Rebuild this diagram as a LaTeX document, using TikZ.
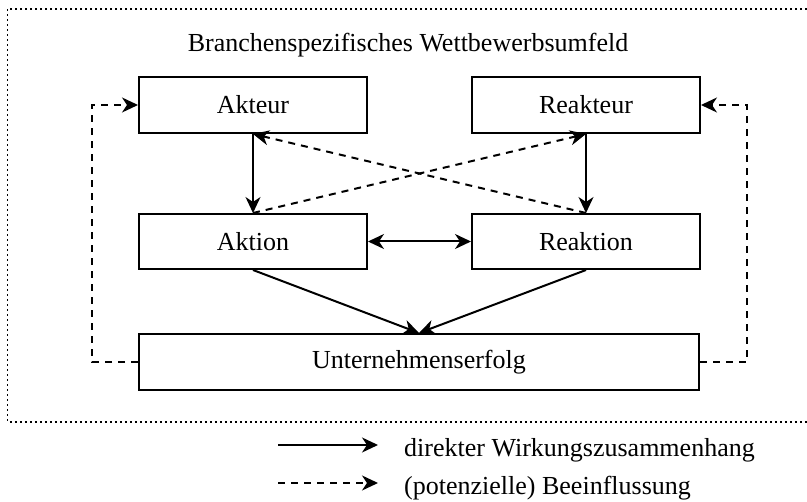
\documentclass[tikz,border=0pt]{standalone}
\usepackage{fontspec}
\setmainfont{Liberation Serif}
\usetikzlibrary{arrows.meta}
\begin{document}
\begin{tikzpicture}[x=1pt,y=-1pt,
  box/.style={draw,line width=2pt,minimum height=56pt,inner sep=0pt,font=\fontsize{26}{30}\selectfont},
  tip/.style={-{Stealth[length=16pt,width=15pt,inset=5pt]}},
  bothtips/.style={{Stealth[length=16pt,width=15pt,inset=5pt]}-{Stealth[length=16pt,width=15pt,inset=5pt]}},
  solidarrow/.style={tip,line width=2pt},
  dasharrow/.style={tip,line width=2pt,dash pattern=on 7pt off 6pt},
  frame/.style={line width=1.6pt,dash pattern=on 1.6pt off 3.4pt},
  lbl/.style={font=\fontsize{26}{30}\selectfont,inner sep=0pt}
]
\useasboundingbox (0,0) rectangle (807,502);
% frame
\coordinate (ftr) at (807,9);
\coordinate (ftl) at (7.5,9);
\coordinate (fbl) at (7.5,422);
\coordinate (fbr) at (807,422);
\draw[frame] (ftr) -- (ftl) -- (fbl) -- (fbr);
\node[lbl,anchor=base] (title) at (408,52) {Branchenspezifisches Wettbewerbsumfeld};
% boxes
\node[box,minimum width=228pt] (akteur) at (253,105) {Akteur};
\node[box,minimum width=228pt] (reakteur) at (586,105) {Reakteur};
\node[box,minimum width=228pt,minimum height=55pt] (aktion) at (253,241.5) {Aktion};
\node[box,minimum width=228pt,minimum height=55pt] (reaktion) at (586,241.5) {Reaktion};
\node[box,minimum width=560pt] (erfolg) at (419,362) {Unternehmenserfolg};
% solid connectors
\draw[solidarrow] (akteur) -- (aktion);
\draw[solidarrow] (reakteur) -- (reaktion);
\draw[line width=2pt,bothtips] (aktion) -- (reaktion);
\draw[solidarrow] (aktion.south) -- (erfolg.north);
\draw[solidarrow] (reaktion.south) -- (erfolg.north);
% dashed connectors
\draw[dasharrow] (aktion.north) -- (reakteur.south);
\draw[dasharrow] (reaktion.north) -- (akteur.south);
\coordinate (lbot) at (92,362);
\coordinate (ltop) at (92,105);
\coordinate (rbot) at (747,362);
\coordinate (rtop) at (747,105);
\draw[dasharrow] (erfolg.west) -- (lbot) -- (ltop) -- (akteur.west);
\draw[dasharrow] (erfolg.east) -- (rbot) -- (rtop) -- (reakteur.east);
% legend
\coordinate (l1a) at (278,445);
\coordinate (l1b) at (378,445);
\coordinate (l2a) at (278,483);
\coordinate (l2b) at (378,483);
\draw[solidarrow] (l1a) -- (l1b);
\draw[dasharrow] (l2a) -- (l2b);
\node[lbl,anchor=base west] (leg1) at (404,457) {direkter Wirkungszusammenhang};
\node[lbl,anchor=base west] (leg2) at (404,495) {(potenzielle) Beeinflussung};
\end{tikzpicture}
\end{document}
